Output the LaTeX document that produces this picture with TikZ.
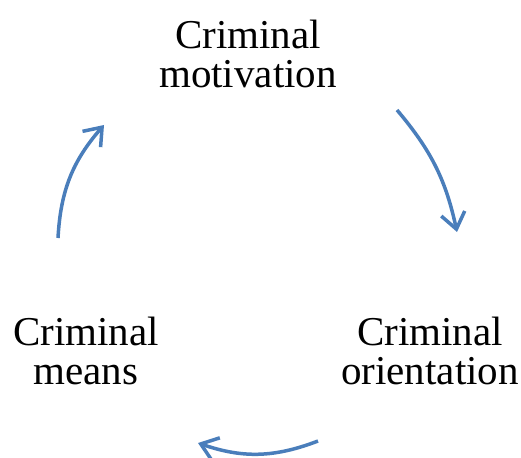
\documentclass[tikz,border=0pt]{standalone}
\usepackage{fontspec}
\setmainfont{Liberation Serif}
\usetikzlibrary{arrows.meta}
\definecolor{cyclblue}{RGB}{74,126,187}
\begin{document}
\begin{tikzpicture}[x=1pt, y=-1pt, % 以像素为单位
    label/.style={align=center, inner sep=0pt, font=\fontsize{41}{39}\selectfont},
    cycarrow/.style={cyclblue, line width=3.5pt, -{Straight Barb[length=16pt, width=24pt, line width=3.5pt]}}]
% 固定画布大小
\useasboundingbox (0,0) rectangle (521,457);
% 三个标签
\node[label] (motiv) at (248,54) {Criminal\\motivation};
\node[label] (orient) at (430,351) {Criminal\\orientation};
\node[label] (means) at (86,351) {Criminal\\means};
% 箭头端点
\coordinate (a1) at (397,110); \coordinate (b1) at (457,232);
\coordinate (a2) at (318,441); \coordinate (b2) at (198,443);
\coordinate (a3) at (58,238);  \coordinate (b3) at (104,125);
% 循环箭头
\draw[cycarrow] (a1) to[bend left=14] (b1); % 动机 -> 取向
\draw[cycarrow] (a2) to[bend left=20] (b2); % 取向 -> 手段
\draw[cycarrow] (a3) to[bend left=19] (b3); % 手段 -> 动机
\end{tikzpicture}
\end{document}
